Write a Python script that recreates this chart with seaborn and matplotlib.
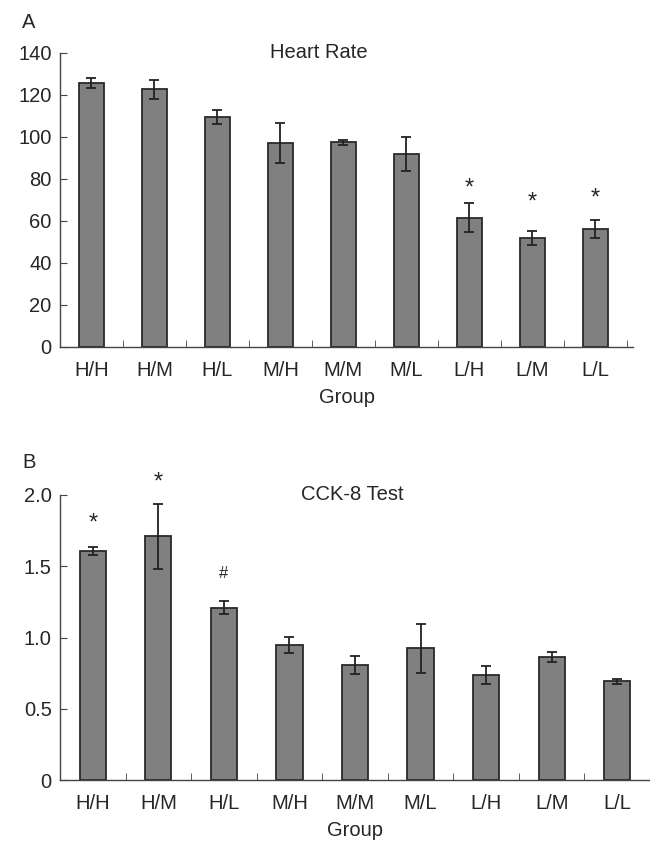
import matplotlib
matplotlib.use("Agg")
import matplotlib.pyplot as plt
import pandas as pd
import numpy as np
import seaborn as sns

groups = ["H/H", "H/M", "H/L", "M/H", "M/M", "M/L", "L/H", "L/M", "L/L"]

# Heart rate (panel A)
hr_mean = [125.7, 122.8, 109.5, 97.0, 97.4, 92.0, 61.6, 52.0, 56.2]
hr_err = [2.4, 4.5, 3.2, 9.6, 1.0, 8.0, 6.8, 3.3, 4.5]
hr_marks = ["", "", "", "", "", "", "*", "*", "*"]
hr_mark_y = [0, 0, 0, 0, 0, 0, 75.5, 69.0, 70.5]

# CCK-8 (panel B)
cck_mean = [1.61, 1.71, 1.21, 0.947, 0.807, 0.924, 0.737, 0.861, 0.692]
cck_err = [0.028, 0.23, 0.045, 0.055, 0.062, 0.172, 0.06, 0.035, 0.016]
cck_marks = ["*", "*", "#", "", "", "", "", "", ""]
cck_mark_y = [1.80, 2.09, 1.45, 0, 0, 0, 0, 0, 0]

sns.set_style("ticks")
plt.rcParams["font.family"] = ["Liberation Sans", "DejaVu Sans"]
FS = 14.5

fig = plt.figure(figsize=(6.5, 8.41), dpi=100)
axA = fig.add_axes([60/650, 1-347/841, (633-60)/650, (347-53)/841])
axB = fig.add_axes([60/650, 1-780/841, (650-60)/650, (780-495)/841])


def panel(ax, mean, err, marks, mark_y, ylim, yticks, yticklabels, title, title_x, xmax):
    df = pd.DataFrame({"Group": groups, "value": mean})
    sns.barplot(data=df, x="Group", y="value", color="#808080", width=0.4,
                edgecolor="#2a2a2a", linewidth=1.3, saturation=1, ax=ax)
    ax.errorbar(np.arange(len(groups)), mean, yerr=err, fmt="none",
                ecolor="#222222", elinewidth=1.3, capsize=3.8, capthick=1.3)
    for i, (m, y) in enumerate(zip(marks, mark_y)):
        if m == "*":
            ax.text(i, y, "*", ha="center", va="center", fontsize=17)
        elif m == "#":
            ax.text(i, y, "#", ha="center", va="center", fontsize=12)
    ax.set_xlim(-0.5, xmax)
    ax.set_ylim(*ylim)
    ax.set_yticks(yticks)
    ax.set_yticklabels(yticklabels, fontsize=FS)
    ax.set_xticks(np.arange(len(groups)))
    ax.set_xticklabels(groups, fontsize=FS)
    ax.tick_params(axis="x", length=0, pad=10)
    ax.set_xticks(np.arange(len(groups)) + 0.5, minor=True)
    ax.tick_params(axis="x", which="minor", direction="in", length=5, color="#444444")
    ax.tick_params(axis="y", direction="in", length=5, color="#444444", pad=6)
    ax.set_xlabel("Group", fontsize=FS, labelpad=6)
    ax.set_ylabel("")
    sns.despine(ax=ax)
    for s in ["left", "bottom"]:
        ax.spines[s].set_color("#444444")
        ax.spines[s].set_linewidth(1.0)
    ax.text(title_x, 1.0, title, transform=ax.transAxes, ha="center", va="center",
            fontsize=FS)


panel(axA, hr_mean, hr_err, hr_marks, hr_mark_y, (0, 140),
      [0, 20, 40, 60, 80, 100, 120, 140],
      ["0", "20", "40", "60", "80", "100", "120", "140"],
      "Heart Rate", (319-60)/573, 8.6)
panel(axB, cck_mean, cck_err, cck_marks, cck_mark_y, (0, 2.0),
      [0, 0.5, 1.0, 1.5, 2.0],
      ["0", "0.5", "1.0", "1.5", "2.0"],
      "CCK-8 Test", (352-60)/590, 8.5)

fig.text(29/650, 1-23/841, "A", fontsize=FS, ha="center", va="center")
fig.text(29/650, 1-463/841, "B", fontsize=FS, ha="center", va="center")

fig.savefig("out.png", dpi=100)
